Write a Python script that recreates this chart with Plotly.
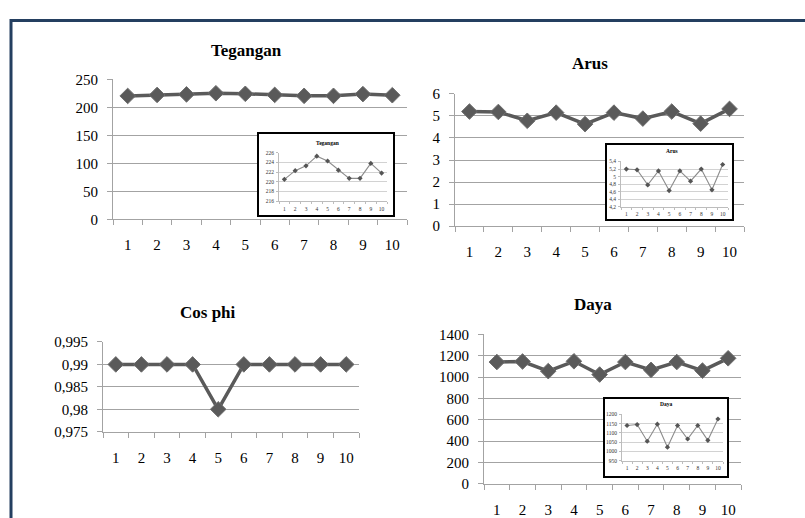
import plotly.graph_objects as go

W, H = 805, 518

# ---------------- data ----------------
x_vals = [1, 2, 3, 4, 5, 6, 7, 8, 9, 10]
x_labels = ["1", "2", "3", "4", "5", "6", "7", "8", "9", "10"]

tegangan = [220.5, 222.3, 223.3, 225.3, 224.3, 222.4, 220.7, 220.7, 223.8, 221.8]
arus = [5.20, 5.18, 4.78, 5.15, 4.63, 5.15, 4.88, 5.20, 4.65, 5.32]
cos_phi = [0.99, 0.99, 0.99, 0.99, 0.98, 0.99, 0.99, 0.99, 0.99, 0.99]
daya = [1140, 1145, 1055, 1147, 1023, 1140, 1067, 1140, 1060, 1175]

titles = ["Tegangan", "Arus", "Cos phi", "Daya"]

teg_ticks = [0, 50, 100, 150, 200, 250]
teg_text = ["0", "50", "100", "150", "200", "250"]
arus_ticks = [0, 1, 2, 3, 4, 5, 6]
arus_text = ["0", "1", "2", "3", "4", "5", "6"]
cos_ticks = [0.975, 0.98, 0.985, 0.99, 0.995]
cos_text = ["0,975", "0,98", "0,985", "0,99", "0,995"]
daya_ticks = [0, 200, 400, 600, 800, 1000, 1200, 1400]
daya_text = ["0", "200", "400", "600", "800", "1000", "1200", "1400"]

teg_in_ticks = [216, 218, 220, 222, 224, 226]
teg_in_text = ["216", "218", "220", "222", "224", "226"]
arus_in_ticks = [4.2, 4.4, 4.6, 4.8, 5.0, 5.2, 5.4]
arus_in_text = ["4,2", "4,4", "4,6", "4,8", "5", "5,2", "5,4"]
daya_in_ticks = [950, 1000, 1050, 1100, 1150, 1200]
daya_in_text = ["950", "1000", "1050", "1100", "1150", "1200"]

# ---------------- styling ----------------
SERIF = "Liberation Serif"
LINE = "#5a5a5a"
GRID = "#a3a3a3"
IN_GRID = "#d2d2d2"


def px_x(a, b):
    return [a / W, b / W]


def px_y(top, bottom):
    return [1 - bottom / H, 1 - top / H]


def pad(lo, hi):
    e = (hi - lo) * 1e-6
    return [lo - e, hi + e]


mains = [
    dict(series=tegangan, dom_x=(113, 407), dom_y=(74, 219), rng=(0, 250),
         tv=teg_ticks, tt=teg_text, title_xy=(246, 44)),
    dict(series=arus, dom_x=(455, 744), dom_y=(89, 226), rng=(0, 6),
         tv=arus_ticks, tt=arus_text, title_xy=(590, 58)),
    dict(series=cos_phi, dom_x=(103, 359), dom_y=(346, 439), rng=(0.975, 0.995),
         tv=cos_ticks, tt=cos_text, title_xy=(208, 315)),
    dict(series=daya, dom_x=(484, 741), dom_y=(338, 493), rng=(0, 1400),
         tv=daya_ticks, tt=daya_text, title_xy=(593, 307)),
]

insets = [
    dict(series=tegangan, title=titles[0], box_x=(259, 393), box_y=(131, 214),
         dom_x=(279, 387), dom_y=(150, 200), rng=(216, 226),
         tv=teg_in_ticks, tt=teg_in_text, title_xy=(327, 140)),
    dict(series=arus, title=titles[1], box_x=(607, 732), box_y=(142, 219),
         dom_x=(621, 728), dom_y=(159, 206), rng=(4.2, 5.4),
         tv=arus_in_ticks, tt=arus_in_text, title_xy=(672, 148)),
    dict(series=daya, title=titles[3], box_x=(605, 727), box_y=(405, 485),
         dom_x=(622, 723), dom_y=(421, 469), rng=(950, 1200),
         tv=daya_in_ticks, tt=daya_in_text, title_xy=(666, 410)),
]

fig = go.Figure()
layout = dict(
    width=W, height=H, margin=dict(l=0, r=0, t=0, b=0), autosize=False,
    paper_bgcolor="white", plot_bgcolor="white", showlegend=False,
    font=dict(family=SERIF, color="black"),
)
annotations = []

n = 0
# main charts
for i, m in enumerate(mains):
    n += 1
    xa = "xaxis" if n == 1 else f"xaxis{n}"
    ya = "yaxis" if n == 1 else f"yaxis{n}"
    xr = "x" if n == 1 else f"x{n}"
    yr = "y" if n == 1 else f"y{n}"
    fig.add_trace(go.Scatter(
        x=x_vals, y=m["series"], xaxis=xr, yaxis=yr, mode="lines+markers",
        line=dict(color=LINE, width=3.5),
        marker=dict(symbol="diamond", size=12, color=LINE,
                    line=dict(color="#6e6e6e", width=1)),
        cliponaxis=False, hoverinfo="skip"))
    layout[xa] = dict(
        domain=px_x(*m["dom_x"]), anchor=yr, range=[0.5, 10.5],
        tickmode="array", tickvals=x_vals, ticktext=x_labels, ticks="",
        showgrid=False, zeroline=False, showline=True, linecolor=GRID, linewidth=1.2,
        tickfont=dict(family=SERIF, size=15, color="black"), ticklabelstandoff=12,
        minor=dict(tickmode="linear", tick0=0.5, dtick=1, ticks="outside",
                   ticklen=5, tickcolor=GRID, tickwidth=1.2, showgrid=False),
    )
    layout[ya] = dict(
        domain=px_y(*m["dom_y"]), anchor=xr, range=pad(*m["rng"]),
        tickmode="array", tickvals=m["tv"], ticktext=m["tt"],
        ticks="outside", ticklen=5, tickcolor=GRID, tickwidth=1.2,
        showgrid=True, gridcolor=GRID, gridwidth=1.2, zeroline=False,
        showline=True, linecolor=GRID, linewidth=1.2,
        tickfont=dict(family=SERIF, size=15, color="black"), ticklabelstandoff=6,
    )
    tx, ty = m["title_xy"]
    annotations.append(dict(
        text=f"<b>{titles[i]}</b>", xref="paper", yref="paper",
        x=tx / W, y=1 - ty / H, xanchor="center", yanchor="middle",
        showarrow=False, font=dict(family=SERIF, size=17, color="black")))

# inset background boxes (white panels with black frame)
for ins in insets:
    n += 1
    xr, yr = f"x{n}", f"y{n}"
    fig.add_trace(go.Scatter(x=[], y=[], xaxis=xr, yaxis=yr, mode="markers",
                             hoverinfo="skip"))
    layout[f"xaxis{n}"] = dict(
        domain=px_x(*ins["box_x"]), anchor=yr, range=[0, 1], visible=True,
        showgrid=False, zeroline=False, showticklabels=False, ticks="",
        showline=True, mirror=True, linecolor="black", linewidth=1.6)
    layout[f"yaxis{n}"] = dict(
        domain=px_y(*ins["box_y"]), anchor=xr, range=[0, 1], visible=True,
        showgrid=False, zeroline=False, showticklabels=False, ticks="",
        showline=True, mirror=True, linecolor="black", linewidth=1.6)

# inset charts
for ins in insets:
    n += 1
    xr, yr = f"x{n}", f"y{n}"
    fig.add_trace(go.Scatter(
        x=x_vals, y=ins["series"], xaxis=xr, yaxis=yr, mode="lines+markers",
        line=dict(color="#8c8c8c", width=1.1),
        marker=dict(symbol="diamond", size=4, color="#555555"),
        cliponaxis=False, hoverinfo="skip"))
    layout[f"xaxis{n}"] = dict(
        domain=px_x(*ins["dom_x"]), anchor=yr, range=[0.5, 10.5],
        tickmode="array", tickvals=x_vals, ticktext=x_labels, ticks="",
        showgrid=False, zeroline=False, showline=True, linecolor="#bdbdbd", linewidth=0.8,
        tickfont=dict(family=SERIF, size=5.5, color="#333333"), ticklabelstandoff=2,
        minor=dict(tickmode="linear", tick0=0.5, dtick=1, ticks="outside",
                   ticklen=2, tickcolor="#bdbdbd", tickwidth=0.8, showgrid=False),
    )
    layout[f"yaxis{n}"] = dict(
        domain=px_y(*ins["dom_y"]), anchor=xr, range=pad(*ins["rng"]),
        tickmode="array", tickvals=ins["tv"], ticktext=ins["tt"],
        ticks="outside", ticklen=2, tickcolor="#bdbdbd", tickwidth=0.8,
        showgrid=True, gridcolor=IN_GRID, gridwidth=0.8, zeroline=False,
        showline=True, linecolor="#bdbdbd", linewidth=0.8,
        tickfont=dict(family=SERIF, size=5.5, color="#333333"), ticklabelstandoff=1,
    )
    tx, ty = ins["title_xy"]
    annotations.append(dict(
        text=f"<b>{ins['title']}</b>", xref="paper", yref="paper",
        x=tx / W, y=1 - ty / H, xanchor="center", yanchor="middle",
        showarrow=False, font=dict(family=SERIF, size=5.5, color="black")))

layout["annotations"] = annotations
layout["shapes"] = [dict(
    type="rect", xref="paper", yref="paper", layer="below",
    x0=11 / W, x1=1.2, y0=-0.2, y1=1 - 13 / H,
    line=dict(color="#243f60", width=3), fillcolor="rgba(0,0,0,0)")]

fig.update_layout(**layout)

POST = (
    "var s=document.documentElement.style;s.margin='0';s.padding='0';"
    "var b=document.body.style;b.margin='0';b.padding='0';"
)
fig.write_html(
    "out.html",
    config={"responsive": False, "displayModeBar": False},
    post_script=POST,
)
